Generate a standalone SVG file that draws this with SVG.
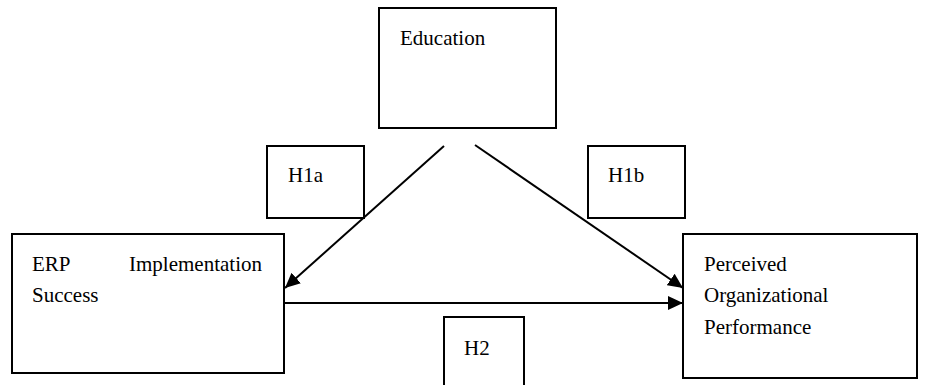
<svg xmlns="http://www.w3.org/2000/svg" width="927" height="385" viewBox="0 0 927 385">
<defs>
<style>
.box{fill:#fff;stroke:#000;stroke-width:2}
.t{font-family:'Liberation Serif','Times New Roman',Tinos,'DejaVu Serif',serif;font-size:21px;fill:#000}
.c{stroke:#000;stroke-width:2;fill:none}
</style>
<marker id="ah" viewBox="0 0 15 14" refX="15" refY="7" markerWidth="15" markerHeight="14" markerUnits="userSpaceOnUse" orient="auto">
<path d="M0,0 L15,7 L0,14 Z" fill="#000"/>
</marker>
</defs>
<rect width="927" height="385" fill="#fff"/>
<g id="education">
<rect class="box" x="379" y="8" width="177" height="120"/>
<text class="t" x="400" y="45">Education</text>
</g>
<g id="h1a">
<rect class="box" x="267" y="146" width="97" height="72"/>
<text class="t" x="288" y="182">H1a</text>
</g>
<g id="h1b">
<rect class="box" x="588" y="146" width="97" height="72"/>
<text class="t" x="608" y="182">H1b</text>
</g>
<g id="erp">
<rect class="box" x="12" y="234" width="272" height="139"/>
<text class="t" x="32" y="271">ERP</text>
<text class="t" x="129" y="271">Implementation</text>
<text class="t" x="32" y="302">Success</text>
</g>
<g id="h2">
<rect class="box" x="444" y="317" width="80" height="80"/>
<text class="t" x="464" y="355">H2</text>
</g>
<g id="perf">
<rect class="box" x="683" y="234" width="234" height="144"/>
<text class="t" x="704" y="271">Perceived</text>
<text class="t" x="704" y="302">Organizational</text>
<text class="t" x="704" y="334">Performance</text>
</g>
<g id="connectors">
<line class="c" x1="444" y1="146" x2="285" y2="288" marker-end="url(#ah)"/>
<line class="c" x1="475" y1="145" x2="683" y2="288" marker-end="url(#ah)"/>
<line class="c" x1="284" y1="303" x2="683" y2="303" marker-end="url(#ah)"/>
</g>
</svg>
